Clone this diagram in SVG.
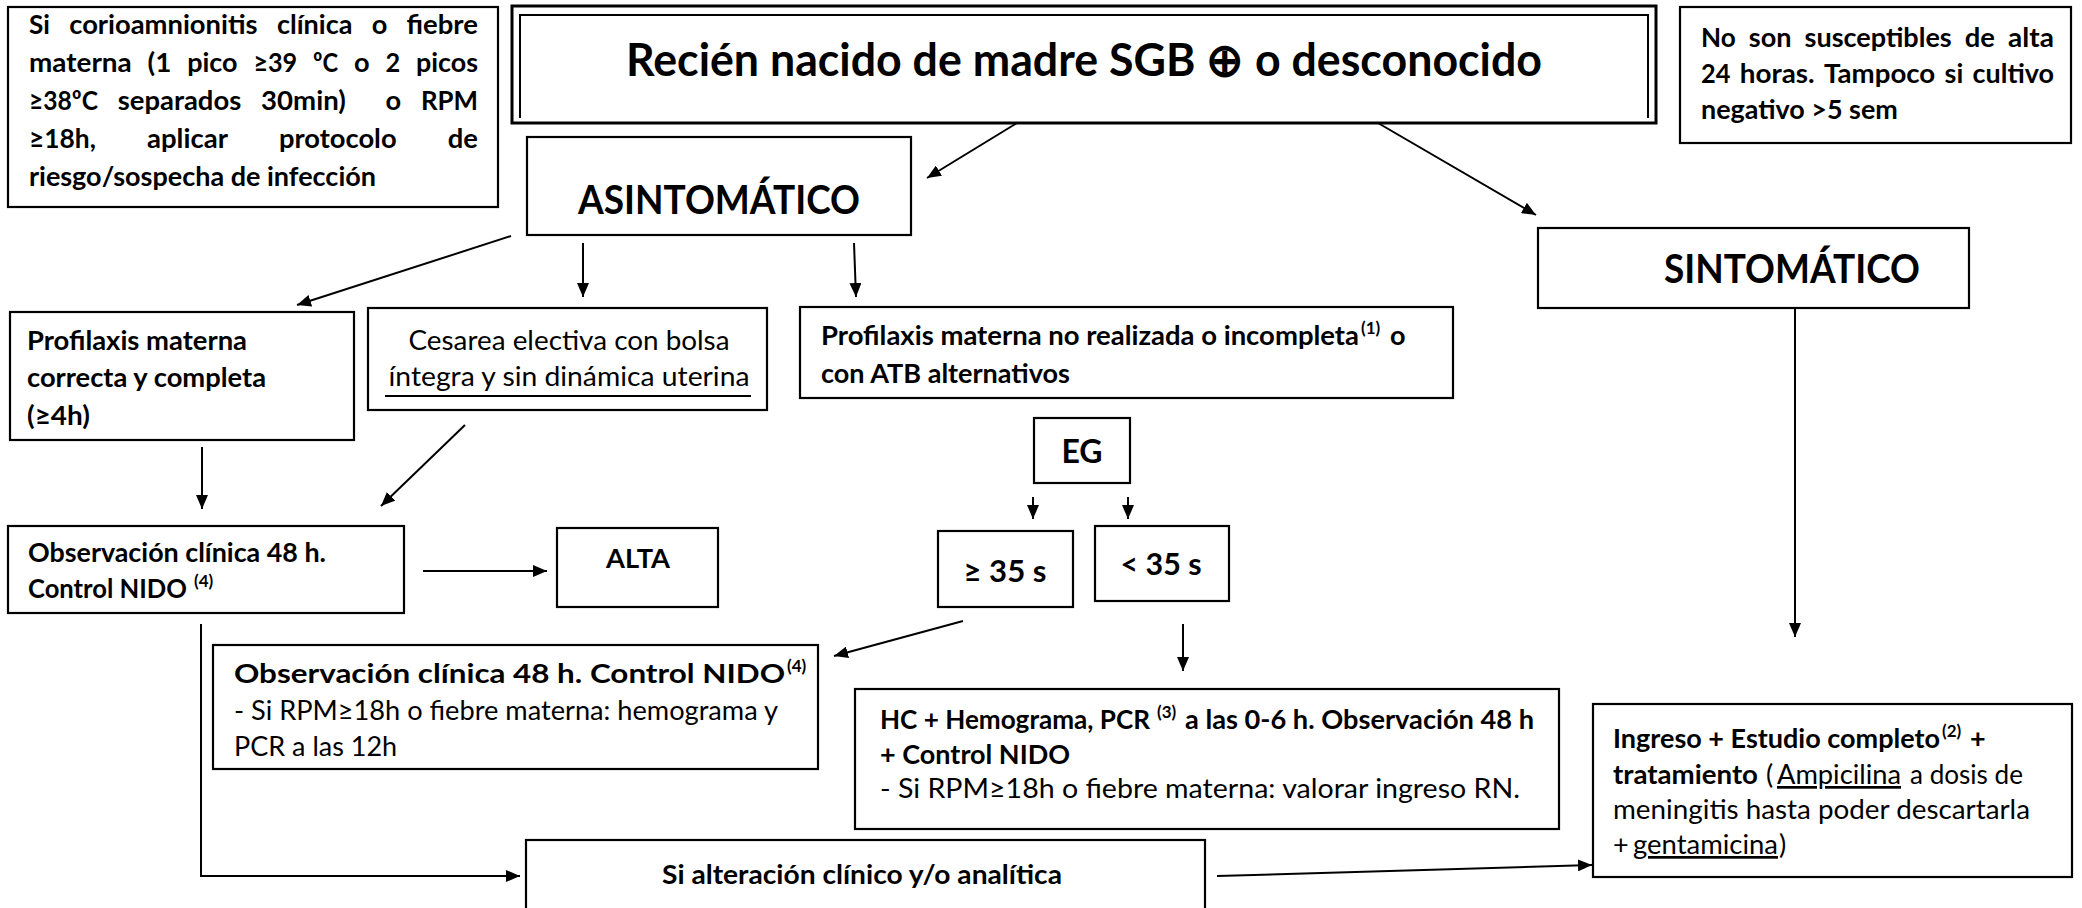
<svg xmlns="http://www.w3.org/2000/svg" width="2082" height="908" viewBox="0 0 2082 908">
<defs>
<style>
.box{fill:#fff;stroke:#000;stroke-width:2.2}
.t{font-family:Lato,"Liberation Sans",sans-serif;fill:#000}
.b{font-weight:bold}
.r{font-weight:normal}
.s27{font-size:27px}
.sup{font-size:17px}
.u{text-decoration:underline}
.c line,.c path{stroke:#000;stroke-width:2;fill:none;marker-end:url(#ah)}
</style>
<marker id="ah" markerUnits="userSpaceOnUse" markerWidth="14" markerHeight="12" refX="14" refY="6" orient="auto">
<path d="M0,0 L14,6 L0,12 z" fill="#000"/>
</marker>
</defs>
<rect width="2082" height="908" fill="#fff"/>

<g id="note-left">
<rect class="box" x="8" y="7" width="490" height="200"/>
<g class="t b s27">
<text x="29" y="34" textLength="20.9" lengthAdjust="spacingAndGlyphs">Si</text>
<text x="69.2" y="34" textLength="188.4" lengthAdjust="spacingAndGlyphs">corioamnionitis</text>
<text x="276.9" y="34" textLength="75.5" lengthAdjust="spacingAndGlyphs">clínica</text>
<text x="371.7" y="34" textLength="15.6" lengthAdjust="spacingAndGlyphs">o</text>
<text x="406.6" y="34" textLength="71.3" lengthAdjust="spacingAndGlyphs">fiebre</text>
<text x="29" y="72" textLength="102.7" lengthAdjust="spacingAndGlyphs">materna</text>
<text x="147.5" y="72" textLength="23.8" lengthAdjust="spacingAndGlyphs">(1</text>
<text x="187.2" y="72" textLength="50.4" lengthAdjust="spacingAndGlyphs">pico</text>
<text x="253.4" y="72" textLength="43.8" lengthAdjust="spacingAndGlyphs">≥39</text>
<text x="313.1" y="72" textLength="25.1" lengthAdjust="spacingAndGlyphs">ºC</text>
<text x="354" y="72" textLength="15.6" lengthAdjust="spacingAndGlyphs">o</text>
<text x="385.5" y="72" textLength="14.7" lengthAdjust="spacingAndGlyphs">2</text>
<text x="416" y="72" textLength="62" lengthAdjust="spacingAndGlyphs">picos</text>
<text x="29" y="110" textLength="68.9" lengthAdjust="spacingAndGlyphs">≥38ºC</text>
<text x="117.8" y="110" textLength="123.4" lengthAdjust="spacingAndGlyphs">separados</text>
<text x="261.1" y="110" textLength="84.7" lengthAdjust="spacingAndGlyphs">30min)</text>
<text x="385.5" y="110" textLength="15.6" lengthAdjust="spacingAndGlyphs">o</text>
<text x="420.9" y="110" textLength="57.1" lengthAdjust="spacingAndGlyphs">RPM</text>
<text x="29" y="148" textLength="66.9" lengthAdjust="spacingAndGlyphs">≥18h,</text>
<text x="147" y="148" textLength="80.9" lengthAdjust="spacingAndGlyphs">aplicar</text>
<text x="279" y="148" textLength="117.6" lengthAdjust="spacingAndGlyphs">protocolo</text>
<text x="447.8" y="148" textLength="30.2" lengthAdjust="spacingAndGlyphs">de</text>
<text x="29" y="186" textLength="347" lengthAdjust="spacingAndGlyphs">riesgo/sospecha de infección</text>
</g>
</g>

<g id="title">
<rect x="512" y="6" width="1144" height="117" fill="#fff" stroke="#000" stroke-width="3"/>
<path d="M520,118 V15 H1648 V118" fill="none" stroke="#000" stroke-width="2"/>
<text class="t b" x="1084" y="76" font-size="46" text-anchor="middle" textLength="916" lengthAdjust="spacingAndGlyphs">Recién nacido de madre SGB ⊕ o desconocido</text>
</g>

<g id="note-right">
<rect class="box" x="1680" y="7" width="391" height="136"/>
<g class="t b s27">
<text x="1701" y="47" textLength="34.7" lengthAdjust="spacingAndGlyphs">No</text>
<text x="1748.8" y="47" textLength="42.7" lengthAdjust="spacingAndGlyphs">son</text>
<text x="1804.6" y="47" textLength="147.1" lengthAdjust="spacingAndGlyphs">susceptibles</text>
<text x="1964.8" y="47" textLength="30.2" lengthAdjust="spacingAndGlyphs">de</text>
<text x="2008.1" y="47" textLength="45.8" lengthAdjust="spacingAndGlyphs">alta</text>
<text x="1701" y="83" textLength="29.4" lengthAdjust="spacingAndGlyphs">24</text>
<text x="1739.8" y="83" textLength="74.8" lengthAdjust="spacingAndGlyphs">horas.</text>
<text x="1824" y="83" textLength="111.2" lengthAdjust="spacingAndGlyphs">Tampoco</text>
<text x="1944.6" y="83" textLength="18.7" lengthAdjust="spacingAndGlyphs">si</text>
<text x="1972.6" y="83" textLength="81.4" lengthAdjust="spacingAndGlyphs">cultivo</text>
<text x="1701" y="119" textLength="196.8" lengthAdjust="spacingAndGlyphs">negativo &gt;5 sem</text>
</g>
</g>

<g id="asintomatico">
<rect class="box" x="527" y="137" width="384" height="98"/>
<text class="t b" x="719" y="214" font-size="40" text-anchor="middle" textLength="282" lengthAdjust="spacingAndGlyphs">ASINTOMÁTICO</text>
</g>

<g id="sintomatico">
<rect class="box" x="1538" y="228" width="431" height="80"/>
<text class="t b" x="1792" y="283" font-size="40" text-anchor="middle" textLength="256" lengthAdjust="spacingAndGlyphs">SINTOMÁTICO</text>
</g>

<g id="profilaxis-correcta">
<rect class="box" x="10" y="312" width="344" height="128"/>
<g class="t b s27">
<text x="27" y="350" textLength="220" lengthAdjust="spacingAndGlyphs">Profilaxis materna</text>
<text x="27" y="387" textLength="239" lengthAdjust="spacingAndGlyphs">correcta y completa</text>
<text x="27" y="425" textLength="63" lengthAdjust="spacingAndGlyphs">(≥4h)</text>
</g>
</g>

<g id="cesarea">
<rect class="box" x="368" y="308" width="399" height="102"/>
<g class="t r s27">
<text x="569" y="350" text-anchor="middle" textLength="321" lengthAdjust="spacingAndGlyphs">Cesarea electiva con bolsa</text>
<text x="569" y="386" text-anchor="middle" textLength="361" lengthAdjust="spacingAndGlyphs">íntegra y sin dinámica uterina</text>
</g>
<line x1="385" y1="396" x2="751" y2="396" stroke="#000" stroke-width="2"/>
</g>

<g id="profilaxis-no">
<rect class="box" x="800" y="307" width="653" height="91"/>
<g class="t b s27">
<text x="821" y="345" textLength="538" lengthAdjust="spacingAndGlyphs">Profilaxis materna no realizada o incompleta</text>
<text x="1361" y="334" class="sup">(1)</text>
<text x="1390" y="345">o</text>
<text x="821" y="383" textLength="249" lengthAdjust="spacingAndGlyphs">con ATB alternativos</text>
</g>
</g>

<g id="eg">
<rect class="box" x="1034" y="418" width="96" height="65"/>
<text class="t b" x="1082" y="463" font-size="32" text-anchor="middle">EG</text>
</g>

<g id="ge35">
<rect class="box" x="938" y="531" width="135" height="76"/>
<text class="t b" x="1005" y="582" font-size="31" text-anchor="middle" textLength="83" lengthAdjust="spacingAndGlyphs">≥ 35 s</text>
</g>

<g id="lt35">
<rect class="box" x="1095" y="526" width="134" height="75"/>
<text class="t b" x="1161" y="575" font-size="31" text-anchor="middle" textLength="81" lengthAdjust="spacingAndGlyphs">&lt; 35 s</text>
</g>

<g id="observacion-1">
<rect class="box" x="8" y="526" width="396" height="87"/>
<g class="t b s27">
<text x="28" y="562" textLength="298" lengthAdjust="spacingAndGlyphs">Observación clínica 48 h.</text>
<text x="28" y="598" textLength="159" lengthAdjust="spacingAndGlyphs">Control NIDO</text>
<text x="194" y="587" class="sup">(4)</text>
</g>
</g>

<g id="alta">
<rect class="box" x="557" y="528" width="161" height="79"/>
<text class="t b s27" x="638" y="568" text-anchor="middle" textLength="64" lengthAdjust="spacingAndGlyphs">ALTA</text>
</g>

<g id="observacion-2">
<rect class="box" x="213" y="645" width="605" height="124"/>
<g class="t s27">
<text class="b" x="234" y="683" textLength="551" lengthAdjust="spacingAndGlyphs">Observación clínica 48 h. Control NIDO</text>
<text class="b sup" x="787" y="672">(4)</text>
<text class="r" x="234" y="720" textLength="544" lengthAdjust="spacingAndGlyphs">- Si RPM≥18h o fiebre materna: hemograma y</text>
<text class="r" x="234" y="756">PCR a las 12h</text>
</g>
</g>

<g id="hc">
<rect class="box" x="855" y="689" width="704" height="140"/>
<g class="t s27">
<text class="b" x="880" y="729" textLength="270" lengthAdjust="spacingAndGlyphs">HC + Hemograma, PCR</text>
<text class="b sup" x="1157" y="718">(3)</text>
<text class="b" x="1185" y="729" textLength="349" lengthAdjust="spacingAndGlyphs">a las 0-6 h. Observación 48 h</text>
<text class="b" x="880" y="764">+ Control NIDO</text>
<text class="r" x="880" y="798" textLength="640" lengthAdjust="spacingAndGlyphs">- Si RPM≥18h o fiebre materna: valorar ingreso RN.</text>
</g>
</g>

<g id="alteracion">
<rect class="box" x="526" y="840" width="679" height="80"/>
<text class="t b s27" x="662" y="884" textLength="400" lengthAdjust="spacingAndGlyphs">Si alteración clínico y/o analítica</text>
</g>

<g id="ingreso">
<rect class="box" x="1593" y="704" width="479" height="173"/>
<g class="t s27">
<text class="b" x="1613" y="748" textLength="327" lengthAdjust="spacingAndGlyphs">Ingreso + Estudio completo</text>
<text class="b sup" x="1942" y="737">(2)</text>
<text class="b" x="1970" y="748">+</text>
<text class="b" x="1613" y="784" textLength="145" lengthAdjust="spacingAndGlyphs">tratamiento</text>
<text class="r" x="1766" y="784">(</text>
<text class="r u" x="1777" y="784" textLength="124" lengthAdjust="spacingAndGlyphs">Ampicilina</text>
<text class="r" x="1910" y="784" textLength="113" lengthAdjust="spacingAndGlyphs">a dosis de</text>
<text class="r" x="1613" y="819" textLength="417" lengthAdjust="spacingAndGlyphs">meningitis hasta poder  descartarla</text>
<text class="r" x="1613" y="854">+</text>
<text class="r u" x="1633" y="854" textLength="145" lengthAdjust="spacingAndGlyphs">gentamicina</text>
<text class="r" x="1779" y="854">)</text>
</g>
</g>

<g id="connectors" class="c">
<line x1="1017" y1="123" x2="927" y2="178"/>
<line x1="1378" y1="123" x2="1536" y2="215"/>
<line x1="511" y1="236" x2="297" y2="305"/>
<line x1="583" y1="243" x2="583" y2="297"/>
<line x1="854" y1="243" x2="856" y2="297"/>
<line x1="202" y1="447" x2="202" y2="509"/>
<line x1="465" y1="425" x2="381" y2="506"/>
<line x1="423" y1="571" x2="547" y2="571"/>
<line x1="1033" y1="497" x2="1033" y2="519"/>
<line x1="1128" y1="497" x2="1128" y2="519"/>
<line x1="963" y1="621" x2="834" y2="656"/>
<line x1="1183" y1="624" x2="1183" y2="671"/>
<path d="M201,624 V876 H520"/>
<line x1="1217" y1="876" x2="1592" y2="865"/>
<line x1="1795" y1="308" x2="1795" y2="637"/>
</g>
</svg>
